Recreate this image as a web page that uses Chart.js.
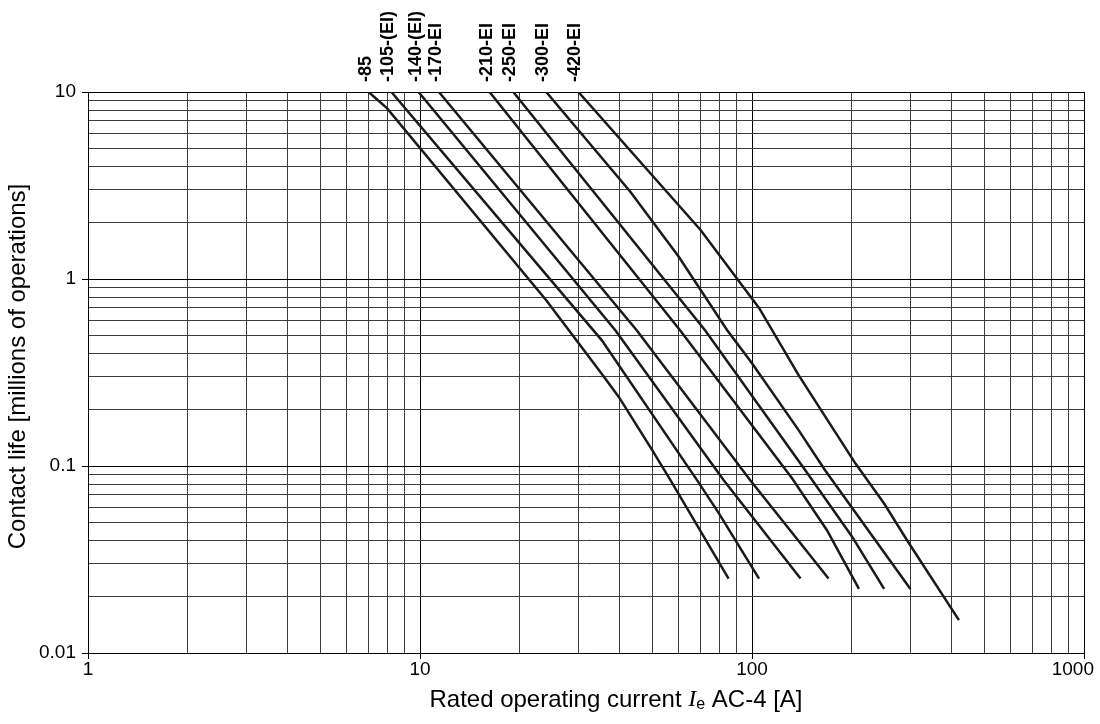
<!DOCTYPE html>
<html>
<head>
<meta charset="utf-8">
<script src="https://cdn.jsdelivr.net/npm/chart.js@4.4.1/dist/chart.umd.min.js"></script>
<style>
  html, body { margin: 0; padding: 0; background: #fff; }
</style>
</head>
<body>
<canvas id="lifeChart" width="1100" height="724"></canvas>
<script>
// Contactor sizes, printed above the start of each curve
const seriesNames = ['-85', '-105-(EI)', '-140-(EI)', '-170-EI', '-210-EI', '-250-EI', '-300-EI', '-420-EI'];

// [rated current A, contact life in millions of operations]
const life85  = [[7, 10], [7.95, 8.2], [24, 0.77], [35.3, 0.31], [39.7, 0.234], [50, 0.122], [56.8, 0.084], [85, 0.025]];
const life105 = [[8.2, 10], [35.3, 0.47], [68.3, 0.084], [79.4, 0.056], [105, 0.025]];
const life140 = [[9.9, 10], [38.8, 0.53], [82.2, 0.084], [140, 0.025]];
const life170 = [[11.4, 10], [45, 0.53], [98.8, 0.084], [170, 0.025]];
const life210 = [[16.2, 10], [60.8, 0.53], [132, 0.086], [168, 0.0455], [210, 0.022]];
const life250 = [[19.1, 10], [72.3, 0.53], [144.7, 0.095], [200, 0.042], [250, 0.022]];
const life300 = [[24, 10], [43, 2.93], [60.1, 1.32], [84.1, 0.534], [100, 0.354], [138, 0.156], [166, 0.095], [300, 0.022]];
const life420 = [[30, 10], [70, 1.83], [105, 0.70], [138, 0.307], [205, 0.103], [250, 0.063], [296, 0.039], [420, 0.015]];
const allCurves = [life85, life105, life140, life170, life210, life250, life300, life420];

// grid positions and labelled decades
const xTicks = [1, 2, 3, 4, 5, 6, 7, 8, 9, 10, 20, 30, 40, 50, 60, 70, 80, 90,
                100, 200, 300, 400, 500, 600, 700, 800, 900, 1000];
const yTicks = [0.01, 0.02, 0.03, 0.04, 0.05, 0.06, 0.07, 0.08, 0.09, 0.1,
                0.2, 0.3, 0.4, 0.5, 0.6, 0.7, 0.8, 0.9, 1, 2, 3, 4, 5, 6, 7, 8, 9, 10];
const xLabels = [1, 10, 100, 1000];
const yLabels = [0.01, 0.1, 1, 10];

const FONT = '"Liberation Sans", Arial, Helvetica, sans-serif';
const TICK_SIZE = 19;
const TITLE_SIZE = 24;

// labels above the curves, x tick labels and the two axis titles
const annotations = {
    id: 'annotations',
    afterDraw(chart) {
        const c = chart.ctx;
        const xs = chart.scales.x;
        const area = chart.chartArea;
        c.save();
        c.fillStyle = '#000';

        // curve names, rotated
        c.font = 'bold 18px ' + FONT;
        c.textAlign = 'left';
        c.textBaseline = 'middle';
        allCurves.forEach((curve, i) => {
            const px = xs.getPixelForValue(curve[0][0]) - 3;
            c.save();
            c.translate(px, area.top - 10);
            c.rotate(-Math.PI / 2);
            c.fillText(seriesNames[i], 0, 0);
            c.restore();
        });

        // x tick labels, kept inside the canvas at the right end
        c.font = TICK_SIZE + 'px ' + FONT;
        c.textAlign = 'center';
        c.textBaseline = 'top';
        xLabels.forEach(v => {
            const txt = String(v);
            const w = c.measureText(txt).width;
            let px = xs.getPixelForValue(v);
            px = Math.min(px, chart.width - 6 - w / 2);
            c.fillText(txt, px, area.bottom + 7);
        });

        // y title
        c.font = TITLE_SIZE + 'px ' + FONT;
        c.textAlign = 'center';
        c.textBaseline = 'middle';
        c.save();
        c.translate(18, (area.top + area.bottom) / 2 - 6);
        c.rotate(-Math.PI / 2);
        c.fillText('Contact life [millions of operations]', 0, 0);
        c.restore();

        // x title with italic I and subscript e
        const parts = [
            { t: 'Rated operating current ', f: TITLE_SIZE + 'px ' + FONT, dy: 0 },
            { t: 'I', f: 'italic ' + TITLE_SIZE + 'px "Liberation Serif", "Times New Roman", serif', dy: 0 },
            { t: 'e', f: '16px ' + FONT, dy: 5 },
            { t: ' AC-4 [A]', f: TITLE_SIZE + 'px ' + FONT, dy: 0 }
        ];
        let total = 0;
        parts.forEach(p => { c.font = p.f; p.w = c.measureText(p.t).width; total += p.w; });
        let x = 616 - total / 2;
        const y = 700;
        c.textAlign = 'left';
        parts.forEach(p => {
            c.font = p.f;
            c.fillText(p.t, x, y + p.dy);
            x += p.w;
        });
        c.restore();
    }
};

function axisGrid(labels) {
    return {
        color: ctx => (ctx.tick && labels.includes(ctx.tick.value)) ? '#000' : '#3c3c3c',
        lineWidth: 1,
        drawTicks: true,
        tickLength: 6,
        tickColor: ctx => (ctx.tick && labels.includes(ctx.tick.value)) ? '#000' : 'rgba(0,0,0,0)'
    };
}

new Chart(document.getElementById('lifeChart'), {
    type: 'scatter',
    data: {
        datasets: allCurves.map((curve, i) => ({
            label: seriesNames[i],
            data: curve.map(p => ({ x: p[0], y: p[1] })),
            showLine: true,
            borderColor: '#1a1a1a',
            borderWidth: 2.5,
            pointRadius: 0,
            tension: 0,
            fill: false
        }))
    },
    options: {
        responsive: false,
        animation: false,
        layout: { padding: { top: 92, right: 16, left: 0, bottom: 0 } },
        plugins: {
            legend: { display: false },
            tooltip: { enabled: false }
        },
        scales: {
            x: {
                type: 'logarithmic',
                min: 1,
                max: 1000,
                afterBuildTicks: scale => {
                    scale.ticks = xTicks.map(v => ({ value: v, major: xLabels.includes(v) }));
                },
                afterFit: scale => {
                    scale.height = 71;
                    scale.paddingLeft = 0;
                    scale.paddingRight = 0;
                },
                ticks: {
                    autoSkip: false,
                    maxRotation: 0,
                    font: { family: FONT, size: TICK_SIZE },
                    // drawn by the annotations plugin so the last one stays on canvas
                    callback: () => ''
                },
                grid: axisGrid(xLabels),
                border: { display: true, color: '#000', width: 1 }
            },
            y: {
                type: 'logarithmic',
                min: 0.01,
                max: 10,
                afterBuildTicks: scale => {
                    scale.ticks = yTicks.map(v => ({ value: v, major: yLabels.includes(v) }));
                },
                afterFit: scale => {
                    scale.width = 88;
                    scale.paddingTop = 0;
                    scale.paddingBottom = 0;
                },
                ticks: {
                    autoSkip: false,
                    padding: 6,
                    color: '#000',
                    font: { family: FONT, size: TICK_SIZE },
                    callback: v => yLabels.includes(v) ? String(v) : ''
                },
                grid: axisGrid(yLabels),
                border: { display: true, color: '#000', width: 1 }
            }
        }
    },
    plugins: [annotations]
});
</script>
</body>
</html>
